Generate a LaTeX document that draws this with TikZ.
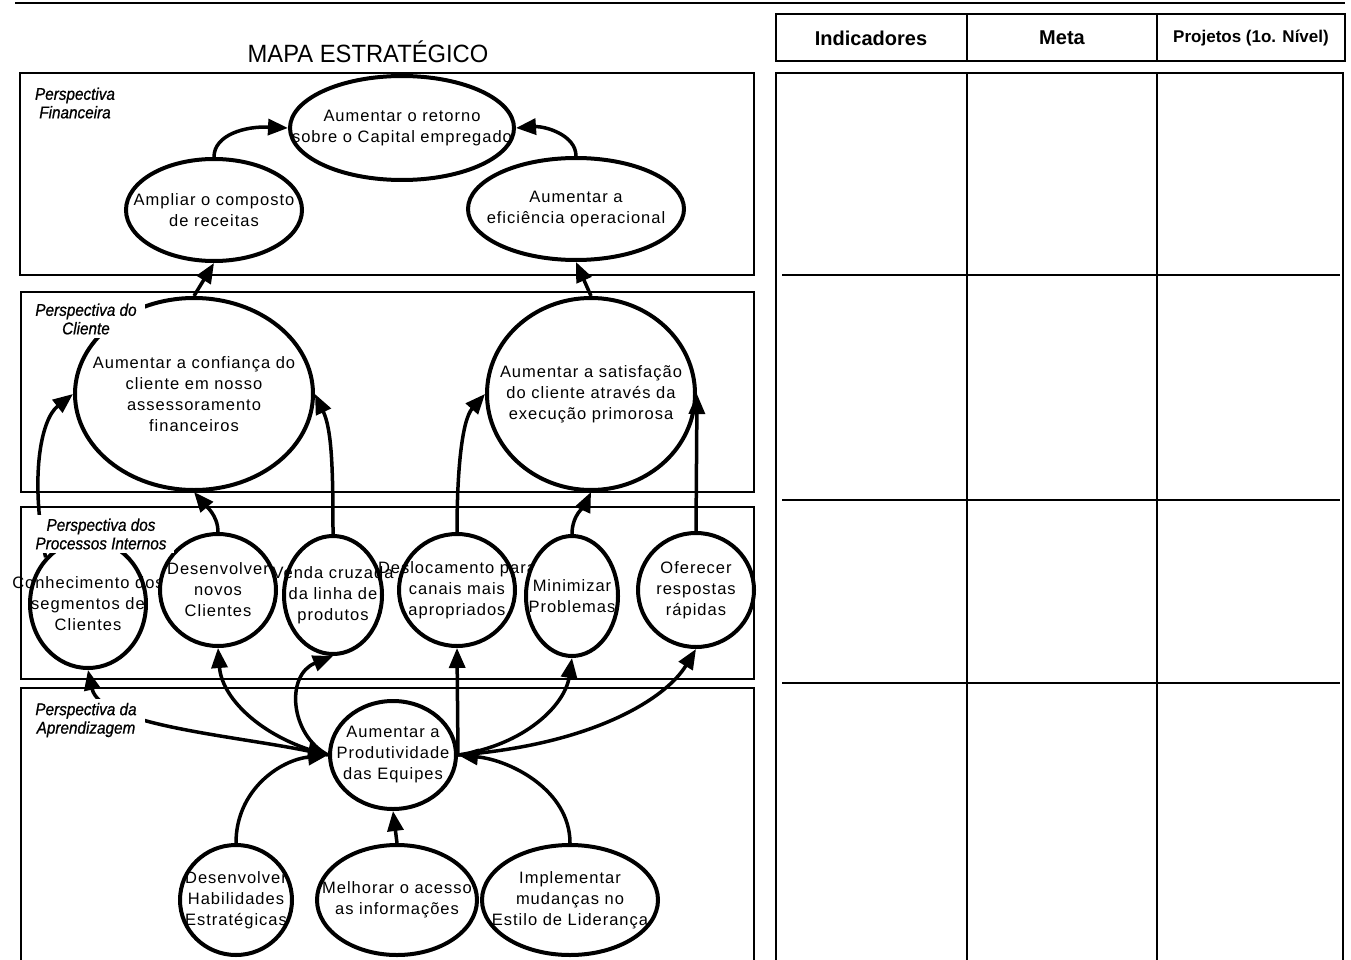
\documentclass[tikz,border=0pt]{standalone}
\usepackage{fontspec}
\setmainfont{Liberation Sans}
\newfontfamily\ellfont[LetterSpace=6]{Liberation Sans}
\newfontfamily\titfont[FakeStretch=0.95]{Liberation Sans}
\newfontfamily\perfont[FakeStretch=0.9,FakeBold=0.8]{Liberation Sans}
\usetikzlibrary{shapes.geometric,arrows.meta}
\tikzset{
 ebg/.style={ellipse, fill=white, draw=none, inner sep=0pt},
 eline/.style={ellipse, draw=black, line width=4pt, inner sep=0pt},
 etext/.style={align=center, font=\ellfont\fontsize{16.5}{21}\selectfont, inner sep=0pt},
 conn/.style={line width=3.5pt, -{Triangle[length=20pt,width=16pt]}},
 conntwo/.style={line width=3.5pt, {Triangle[length=20pt,width=16pt]}-{Triangle[length=20pt,width=16pt]}},
 pbox/.style={draw, line width=1.5pt},
 plabel/.style={fill=white, align=center, font=\perfont\itshape\fontsize{17}{18.5}\selectfont, inner xsep=8pt, inner ysep=4pt},
 tline/.style={line width=1.6pt},
 hdr/.style={font=\bfseries\fontsize{20}{24}\selectfont, inner sep=0pt},
}
\newcommand\goalnode[6]{%
 \node[ebg, minimum width=#4pt, minimum height=#5pt] (#1-bg) at (#2,#3) {};
 \node[etext] (#1-t) at (#2,#3) {#6};
 \node[eline, minimum width=#4pt, minimum height=#5pt] (#1) at (#2,#3) {};
}
\begin{document}
\begin{tikzpicture}[x=1pt,y=-1pt]
\useasboundingbox[fill=white] (0,0) rectangle (1351,960);
% top rule
\draw[line width=2pt] (15,3) -- (1345,3);
% title
\node[font=\titfont\fontsize{25}{30}\selectfont, inner sep=0pt] (title) at (368,52) {MAPA ESTRATÉGICO};
% perspective boxes
\draw[pbox] (20,73) rectangle (754,275);
\draw[pbox] (21,292) rectangle (754,492);
\draw[pbox] (21,507) rectangle (754,679);
\draw[pbox] (21,965) -- (21,688) -- (754,688) -- (754,965);
% table header
\draw[tline] (776,14) rectangle (1345,61);
\draw[tline] (967,14) -- (967,61);
\draw[tline] (1157,14) -- (1157,61);
\node[hdr] (h1) at (871,38) {Indicadores};
\node[hdr] (h2) at (1062,38) {Meta};
\node[hdr, font=\bfseries\fontsize{17}{20}\selectfont] (h3) at (1251,38) {Projetos (1o. Nível)};
% table body
\draw[tline] (776,965) -- (776,73) -- (1343,73) -- (1343,965);
\draw[tline] (967,73) -- (967,965);
\draw[tline] (1157,73) -- (1157,965);
\draw[tline] (782,275) -- (1340,275);
\draw[tline] (782,500) -- (1340,500);
\draw[tline] (782,683) -- (1340,683);
% goals
\goalnode{ret}{402}{128}{224}{104}{Aumentar o retorno\\sobre o Capital empregado}
\goalnode{amp}{214}{210}{176}{102}{Ampliar o composto\\de receitas}
\goalnode{eff}{576}{209}{216}{102}{Aumentar a\\eficiência operacional}
\goalnode{conf}{194}{394}{238}{192}{Aumentar a confiança do\\cliente em nosso\\assessoramento\\financeiros}
\goalnode{sat}{591}{394}{208}{192}{Aumentar a satisfação\\do cliente através da\\execução primorosa}
\goalnode{conh}{88}{604}{116}{128}{Conhecimento dos\\segmentos de\\Clientes}
\goalnode{desn}{218}{590}{116}{112}{Desenvolver\\novos\\Clientes}
\goalnode{venda}{333}{595}{98}{118}{Venda cruzada\\da linha de\\produtos}
\goalnode{desl}{457}{590}{116}{112}{Deslocamento para\\canais mais\\apropriados}
\goalnode{mini}{572}{596}{92}{120}{Minimizar\\Problemas}
\goalnode{ofer}{696}{590}{116}{114}{Oferecer\\respostas\\rápidas}
\goalnode{prod}{393}{755}{126}{108}{Aumentar a\\Produtividade\\das Equipes}
\goalnode{hab}{236}{900}{112}{110}{Desenvolver\\Habilidades\\Estratégicas}
\goalnode{melh}{397}{900}{160}{110}{Melhorar o acesso\\as informações}
\goalnode{impl}{570}{900}{176}{110}{Implementar\\mudanças no\\Estilo de Liderança}
% connectors: financial
\draw[conn] (amp.north) .. controls (214,135) and (245,126) .. (ret.west);
\draw[conn] (eff.north) .. controls (576,135) and (545,126) .. (ret.east);
\draw[conn] (conf.north) -- (amp.south);
\draw[conn] (sat.north) -- (eff.south);
% connectors: internal -> client
\draw[conn] (conh.north west) .. controls (30,480) and (40,420) .. (conf.west);
\draw[conn] (desn.north) .. controls (218,515) and (205,505) .. (conf.south);
\draw[conn] (venda.north) .. controls (333,470) and (332,430) .. (conf.east);
\draw[conn] (desl.north) .. controls (457,470) and (462,420) .. (sat.west);
\draw[conn] (mini.north) .. controls (572,515) and (585,505) .. (sat.south);
\draw[conn] (ofer.north) -- (sat.east);
% connectors: learning -> internal
\draw[conn] (prod.west) .. controls (265,740) and (222,700) .. (desn.south);
\draw[conn] (prod.west) .. controls (290,735) and (285,675) .. (venda.south);
\draw[conn] (prod.east) -- (desl.south);
\draw[conn] (prod.east) .. controls (525,745) and (565,705) .. (mini.south);
\draw[conn] (prod.east) .. controls (590,745) and (665,700) .. (ofer.south);
\draw[conntwo] (conh.south) .. controls (100,725) and (230,735) .. (prod.west);
% connectors: learning internal
\draw[conn] (hab.north) .. controls (236,790) and (280,760) .. (prod.west);
\draw[conn] (melh.north) -- (prod.south);
\draw[conn] (impl.north) .. controls (570,790) and (510,760) .. (prod.east);
% perspective labels
\node[plabel] (pfin) at (75,103) {Perspectiva\\Financeira};
\node[plabel] (pcli) at (86,319) {Perspectiva do\\Cliente};
\node[plabel] (ppro) at (101,534) {Perspectiva dos\\Processos Internos};
\node[plabel] (papr) at (86,720) {Perspectiva da\\Aprendizagem};
\end{tikzpicture}
\end{document}
